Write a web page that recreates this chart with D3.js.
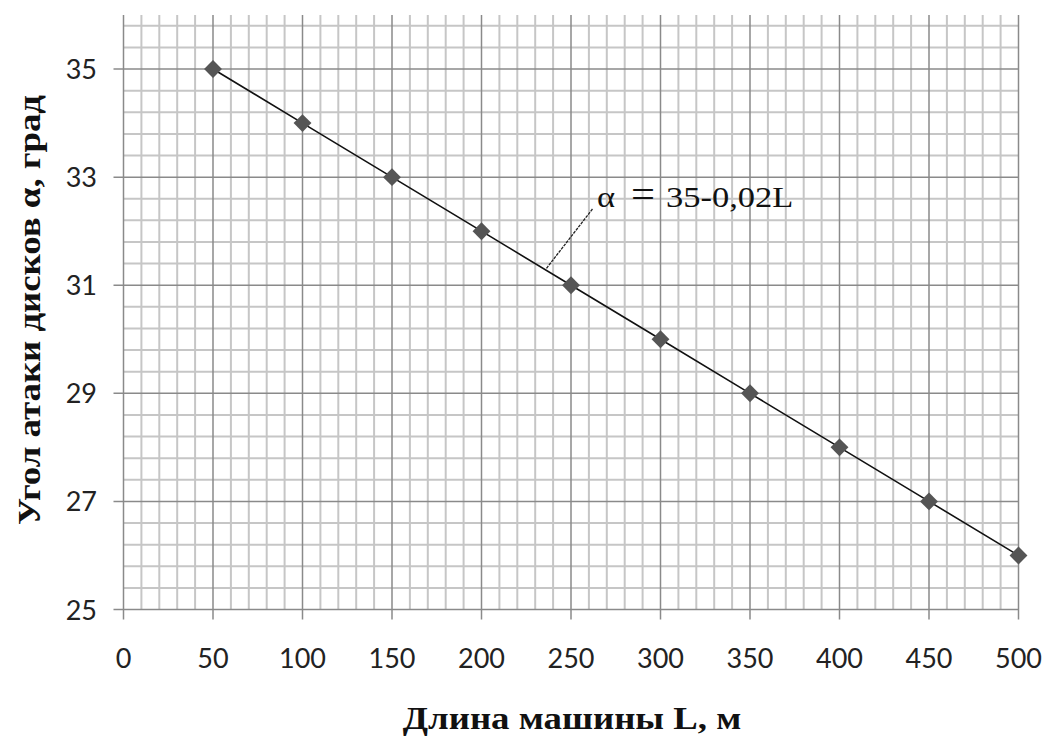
<!DOCTYPE html>
<html>
<head>
<meta charset="utf-8">
<script src="https://cdn.jsdelivr.net/npm/d3@7"></script>
<style>
  body { margin: 0; background: #fff; }
  svg { display: block; }
</style>
</head>
<body>
<svg id="chart" width="1045" height="738"></svg>
<script>
// Data
let lengths = [50, 100, 150, 200, 250, 300, 350, 400, 450, 500];
let angles = [35, 34, 33, 32, 31, 30, 29, 28, 27, 26];
let xTicks = [0, 50, 100, 150, 200, 250, 300, 350, 400, 450, 500];
let yTicks = [25, 27, 29, 31, 33, 35];
let equationParts = ["α", "=", "35-0,02L"];
let leader = [[262, 32.41], [236, 31.3]];  // label end, line end (data units)
let xTitle = "Длина машины L, м";
let yTitle = "Угол атаки дисков α, град";

let svg = d3.select("#chart");

// the source picture is a bit stretched sideways, so texts are too
let stretch = 1.15;
let serif = "'Liberation Serif', 'Times New Roman', serif";

let plot = { left: 123.5, right: 1018.5, top: 15, bottom: 609.5 };

let x = d3.scaleLinear().domain([0, 500]).range([plot.left, plot.right]);
let y = d3.scaleLinear().domain([25, 36]).range([plot.bottom, plot.top]);

// Minor grid
let xMinor = d3.range(0, 501, 10).filter(v => v % 50 != 0);
let yMinor = d3.range(1, 28).filter(k => k % 5 != 0).map(k => 25 + 0.4 * k);

let grid = svg.append("g");
grid.selectAll(".vmin").data(xMinor).enter().append("line")
    .attr("x1", d => x(d)).attr("x2", d => x(d))
    .attr("y1", plot.top).attr("y2", plot.bottom)
    .attr("stroke", "#c6c6c6").attr("stroke-width", 2);
grid.selectAll(".hmin").data(yMinor).enter().append("line")
    .attr("x1", plot.left).attr("x2", plot.right)
    .attr("y1", d => y(d)).attr("y2", d => y(d))
    .attr("stroke", "#c6c6c6").attr("stroke-width", 2);

// Major grid, with ticks sticking out past the axes
grid.selectAll(".vmaj").data(xTicks).enter().append("line")
    .attr("x1", d => x(d)).attr("x2", d => x(d))
    .attr("y1", plot.top).attr("y2", plot.bottom + 10)
    .attr("stroke", "#8a8a8a").attr("stroke-width", 1.5);
grid.selectAll(".hmaj").data(yTicks).enter().append("line")
    .attr("x1", plot.left - 10).attr("x2", plot.right)
    .attr("y1", d => y(d)).attr("y2", d => y(d))
    .attr("stroke", "#8a8a8a").attr("stroke-width", 1.5);

// Tick labels
svg.append("g").selectAll("text").data(xTicks).enter().append("text")
    .attr("x", d => x(d))
    .attr("y", 668)
    .attr("text-anchor", "middle")
    .style("font-family", "Lato, 'Liberation Sans', sans-serif")
    .style("font-size", "27px")
    .attr("fill", "#222")
    .text(d => d);
svg.append("g").selectAll("text").data(yTicks).enter().append("text")
    .attr("x", 97)
    .attr("y", d => y(d) + 10)
    .attr("text-anchor", "end")
    .style("font-family", "Lato, 'Liberation Sans', sans-serif")
    .style("font-size", "27px")
    .attr("fill", "#222")
    .text(d => d);

// Data line and markers
let lineGen = d3.line().x(d => x(d[0])).y(d => y(d[1]));
let points = lengths.map((l, i) => [l, angles[i]]);
svg.append("path")
    .attr("d", lineGen(points))
    .attr("fill", "none")
    .attr("stroke", "#111")
    .attr("stroke-width", 1.6);
svg.append("g").selectAll("path").data(points).enter().append("path")
    .attr("d", d3.symbol().type(d3.symbolSquare).size(160))
    .attr("transform", d => "translate(" + x(d[0]) + "," + y(d[1]) + ") rotate(45)")
    .attr("fill", "#555");

// Equation label with leader line
svg.append("line")
    .attr("x1", x(leader[0][0])).attr("y1", y(leader[0][1]))
    .attr("x2", x(leader[1][0])).attr("y2", y(leader[1][1]))
    .attr("stroke", "#222")
    .attr("stroke-width", 1.3)
    .style("stroke-dasharray", "3,1");
let eqX = [597, 631, 666];
let eqSize = [30, 37, 30];
equationParts.forEach((part, i) => {
    svg.append("text")
        .attr("transform", "translate(" + eqX[i] + ",207) scale(" + stretch + ",1)")
        .style("font-family", serif)
        .style("font-size", eqSize[i] + "px")
        .attr("fill", "#111")
        .text(part);
});

// Axis titles
svg.append("text")
    .attr("transform", "translate(572,729) scale(" + stretch + ",1)")
    .attr("text-anchor", "middle")
    .style("font-family", serif)
    .style("font-size", "32px")
    .style("font-weight", "bold")
    .attr("fill", "#111")
    .text(xTitle);
svg.append("text")
    .attr("transform", "translate(40,310) rotate(-90) scale(" + stretch + ",1)")
    .attr("text-anchor", "middle")
    .style("font-family", serif)
    .style("font-size", "32px")
    .style("font-weight", "bold")
    .attr("fill", "#111")
    .text(yTitle);
</script>
</body>
</html>
